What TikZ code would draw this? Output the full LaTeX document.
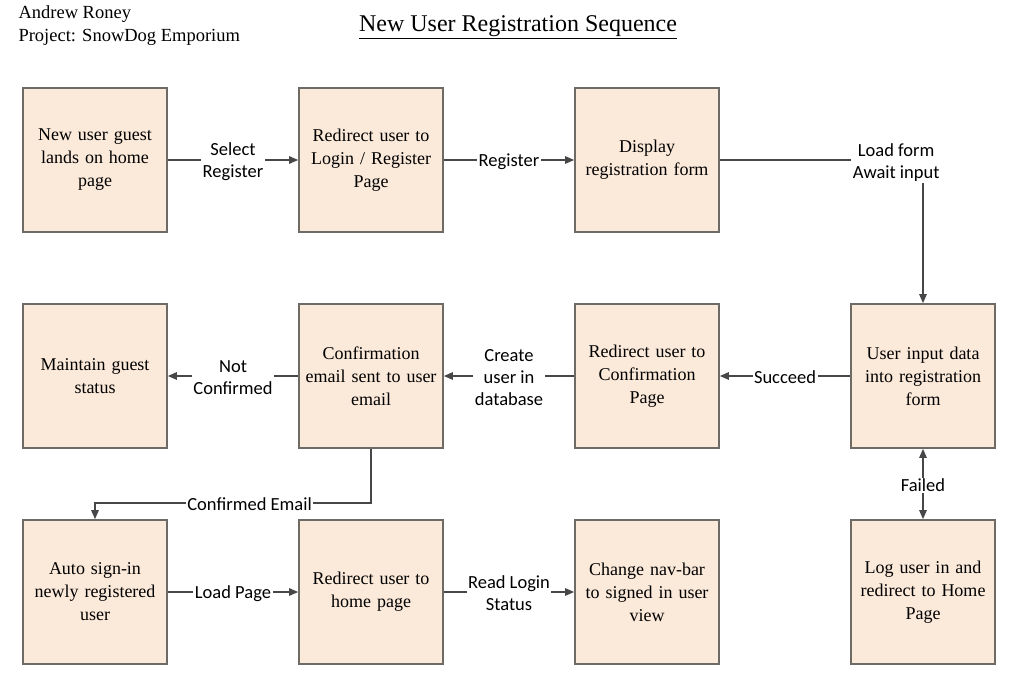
\documentclass[tikz,border=0pt]{standalone}
\usepackage{fontspec}
\setmainfont{Liberation Serif}
\newfontfamily\lblfont{Carlito}
\usepackage{xcolor}
\usepackage{tikz}
\usetikzlibrary{arrows.meta}

\definecolor{boxfill}{HTML}{FBE9DA}
\definecolor{boxline}{HTML}{6E6A66}
\definecolor{connline}{HTML}{474747}

\tikzset{
  stepbox/.style={draw=boxline, fill=boxfill, line width=1.7pt, minimum width=144pt,
    minimum height=144pt, text width=140pt, inner sep=2pt, align=center,
    font=\fontsize{18}{23}\selectfont},
  lbl/.style={fill=white, inner sep=1.5pt, align=center, yshift=-1.5pt,
    font=\lblfont\fontsize{18.5}{22}\selectfont},
  conn/.style={draw=connline, line width=1.3pt, -{Triangle[length=9pt,width=7.5pt]}}
}

\begin{document}
\begin{tikzpicture}[x=1pt,y=-1pt]
\useasboundingbox (0,0) rectangle (1009,677);

% header
\node[anchor=west, align=left, font=\fontsize{18.5}{23}\selectfont] (author) at (15,25.5)
  {Andrew Roney\\Project: SnowDog Emporium};
\node[font=\fontsize{24}{28}\selectfont] (title) at (518,27) {\underline{New User Registration Sequence}};

% top row
\node[stepbox] (guest) at (95,160) {New user guest\\lands on home\\page};
\node[stepbox] (loginpage) at (371,160) {Redirect user to\\Login / Register\\Page};
\node[stepbox] (regform) at (647,160) {Display\\registration form};

% middle row
\node[stepbox] (keepguest) at (95,376) {Maintain guest\\status};
\node[stepbox] (confemail) at (371,376) {Confirmation\\email sent to user\\email};
\node[stepbox] (confpage) at (647,376) {Redirect user to\\Confirmation\\Page};
\node[stepbox] (inputdata) at (923,376) {User input data\\into registration\\form};

% bottom row
\node[stepbox] (autosign) at (95,592) {Auto sign-in\\newly registered\\user};
\node[stepbox] (homepage) at (371,592) {Redirect user to\\home page};
\node[stepbox] (navbar) at (647,592) {Change nav-bar\\to signed in user\\view};
\node[stepbox] (loginhome) at (923,592) {Log user in and\\redirect to Home\\Page};

% connectors
\draw[conn] (guest) -- node[lbl] {Select\\Register} (loginpage);
\draw[conn] (loginpage) -- node[lbl] {Register} (regform);
\draw[conn] (regform.east) -| node[lbl, pos=0.434, yshift=-1pt] {Load form\\Await input} (inputdata.north);

\draw[conn] (inputdata) -- node[lbl] {Succeed} (confpage);
\draw[conn] (confpage) -- node[lbl] {Create\\user in\\database} (confemail);
\draw[conn] (confemail) -- node[lbl] {Not\\Confirmed} (keepguest);

\draw[conn] (confemail.south) -- ++(0,54) -| node[lbl, pos=0.22] {Confirmed Email} (autosign.north);
\draw[conn, {Triangle[length=9pt,width=7.5pt]}-{Triangle[length=9pt,width=7.5pt]}] (inputdata) -- node[lbl] {Failed} (loginhome);

\draw[conn] (autosign) -- node[lbl] {Load Page} (homepage);
\draw[conn] (homepage) -- node[lbl] {Read Login\\Status} (navbar);

\end{tikzpicture}
\end{document}
